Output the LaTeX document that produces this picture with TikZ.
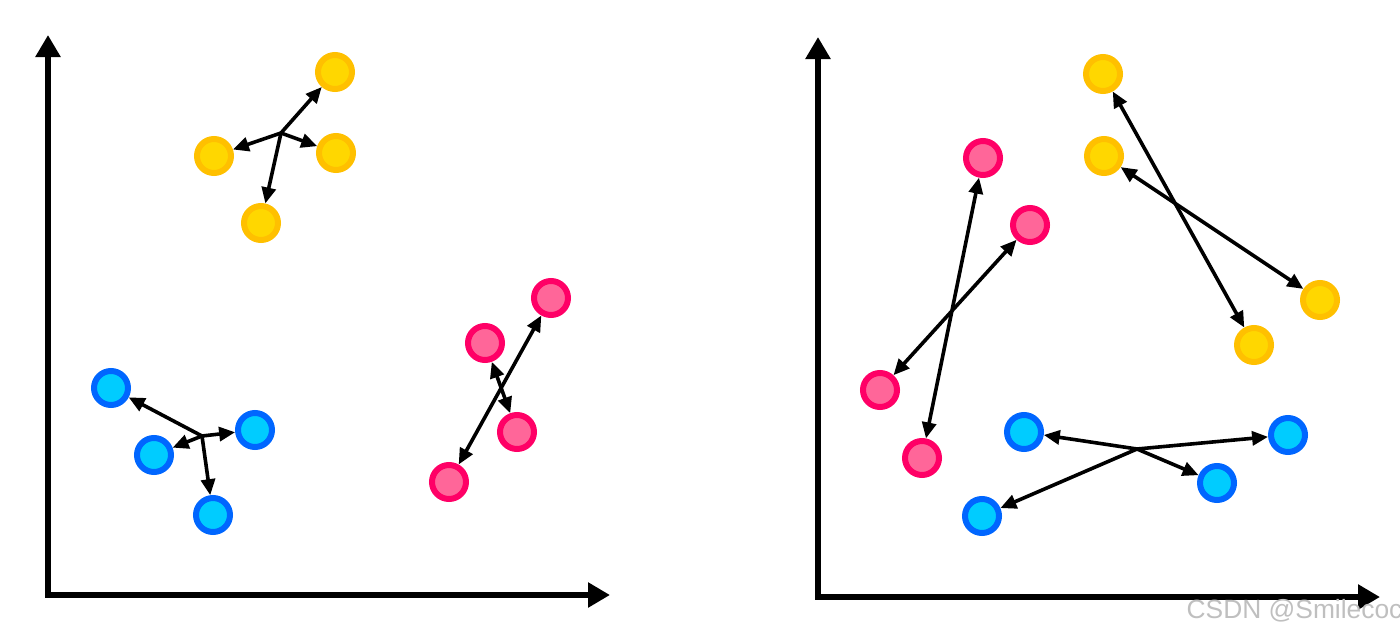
\documentclass[tikz,border=0pt]{standalone}
\usepackage{fontspec}
\setsansfont{Liberation Sans}
\usetikzlibrary{arrows.meta}
\definecolor{yelout}{RGB}{255,192,0}
\definecolor{yelin}{RGB}{255,215,0}
\definecolor{bluout}{RGB}{0,102,255}
\definecolor{bluin}{RGB}{0,204,255}
\definecolor{pnkout}{RGB}{255,0,102}
\definecolor{pnkin}{RGB}{255,102,153}

\begin{document}
\begin{tikzpicture}[
  pt/.style={circle,minimum size=0.34cm,inner sep=0pt,line width=0.06cm},
  yel/.style={pt,draw=yelout,fill=yelin},
  blu/.style={pt,draw=bluout,fill=bluin},
  pnk/.style={pt,draw=pnkout,fill=pnkin},
  arr/.style={line width=0.036cm,-{Triangle[length=0.16cm,width=0.14cm]}},
  darr/.style={line width=0.036cm,{Triangle[length=0.16cm,width=0.14cm]}-{Triangle[length=0.16cm,width=0.14cm]}},
  axis/.style={line width=0.06cm,{Triangle[length=0.22cm,width=0.24cm]}-{Triangle[length=0.22cm,width=0.24cm]}}
]
  \useasboundingbox (0,0) rectangle (14,6.4);
  % before: points move towards their own cluster centre
  \begin{scope}
    \draw[axis] (0.48,6.05) -- (0.48,0.45) -- (6.10,0.45);
    \node[yel] (ya1) at (3.35,5.68) {};
    \node[yel] (ya2) at (2.14,4.84) {};
    \node[yel] (ya3) at (3.36,4.87) {};
    \node[yel] (ya4) at (2.61,4.17) {};
    \coordinate (ca) at (2.81,5.07);
    \foreach \n in {ya1,ya2,ya3,ya4} \draw[arr] (ca) -- (\n);
    \node[blu] (ba1) at (1.11,2.52) {};
    \node[blu] (ba2) at (1.54,1.85) {};
    \node[blu] (ba3) at (2.55,2.10) {};
    \node[blu] (ba4) at (2.13,1.25) {};
    \coordinate (cb) at (2.02,2.04);
    \foreach \n in {ba1,ba2,ba3,ba4} \draw[arr] (cb) -- (\n);
    \node[pnk] (pa1) at (4.85,2.97) {};
    \node[pnk] (pa2) at (5.51,3.42) {};
    \node[pnk] (pa3) at (5.17,2.08) {};
    \node[pnk] (pa4) at (4.49,1.58) {};
    \draw[darr] (pa4) -- (pa2);
    \draw[darr] (pa1) -- (pa3);
  \end{scope}
  % after: points spread apart
  \begin{scope}
    \draw[axis] (8.18,6.03) -- (8.18,0.43) -- (13.80,0.43);
    \node[pnk] (pb1) at (9.83,4.82) {};
    \node[pnk] (pb2) at (10.30,4.15) {};
    \node[pnk] (pb3) at (8.80,2.50) {};
    \node[pnk] (pb4) at (9.22,1.82) {};
    \draw[darr] (pb1) -- (pb4);
    \draw[darr] (pb2) -- (pb3);
    \node[yel] (yb1) at (11.03,5.66) {};
    \node[yel] (yb2) at (11.04,4.84) {};
    \node[yel] (yb3) at (13.20,3.40) {};
    \node[yel] (yb4) at (12.54,2.95) {};
    \draw[darr] (yb1) -- (yb4);
    \draw[darr] (yb2) -- (yb3);
    \node[blu] (bb1) at (10.24,2.08) {};
    \node[blu] (bb2) at (12.88,2.05) {};
    \node[blu] (bb3) at (12.17,1.57) {};
    \node[blu] (bb4) at (9.82,1.24) {};
    \coordinate (cc) at (11.37,1.91);
    \foreach \n in {bb1,bb2,bb3,bb4} \draw[arr] (cc) -- (\n);
  \end{scope}
  \node[anchor=base west,inner sep=0pt,font=\sffamily\fontsize{7.5}{9}\selectfont,text=black!25] (mark) at (11.86,0.22) {CSDN @Smilecoc};
\end{tikzpicture}
\end{document}
